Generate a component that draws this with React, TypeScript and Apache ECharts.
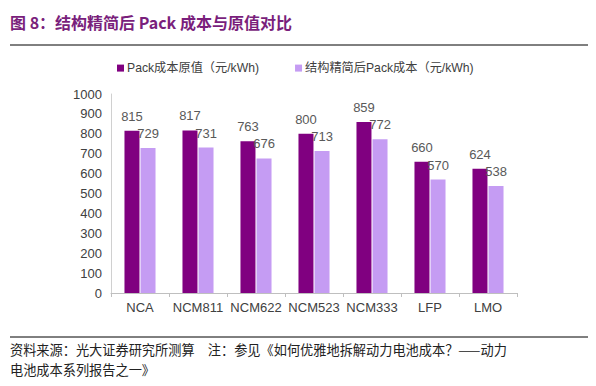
import React, { useEffect, useRef } from "react";
import * as echarts from "echarts";

const categories = ["NCA", "NCM811", "NCM622", "NCM523", "NCM333", "LFP", "LMO"];
const originalCost = [815, 817, 763, 800, 859, 660, 624];
const simplifiedCost = [729, 731, 676, 713, 772, 570, 538];
const seriesNames = ["Pack成本原值（元/kWh)", "结构精简后Pack成本（元/kWh)"];
const titleText = "图 8：结构精简后 Pack 成本与原值对比";
const sourceLine1 = "资料来源：光大证券研究所测算　注：参见《如何优雅地拆解动力电池成本？——动力";
const sourceLine2 = "电池成本系列报告之一》";

const FONT = "Arial, 'Liberation Sans', 'Noto Sans CJK SC', sans-serif";

export default function App() {
  const ref = useRef<HTMLDivElement>(null);
  useEffect(() => {
    if (!ref.current) return;
    const chart = echarts.init(ref.current, null, { renderer: "svg" });
    chart.setOption({
      animation: false,
      backgroundColor: "#ffffff",
      textStyle: { fontFamily: FONT },
      legend: {
        left: 112,
        top: 57,
        icon: "rect",
        itemWidth: 7,
        itemHeight: 7,
        itemGap: 36,
        textStyle: { fontSize: 12.2, color: "#404040", fontFamily: FONT, padding: [0, 0, 0, -2] },
        data: seriesNames,
      },
      grid: { left: 111, right: 79, top: 94, bottom: 93, containLabel: false },
      xAxis: {
        type: "category",
        data: categories,
        axisLine: { lineStyle: { color: "#BFBFBF" } },
        axisTick: { show: true, alignWithLabel: false, length: 4, lineStyle: { color: "#BFBFBF" } },
        axisLabel: { fontSize: 13, color: "#404040", margin: 8, interval: 0 },
      },
      yAxis: {
        type: "value",
        min: 0,
        max: 1000,
        interval: 100,
        splitLine: { show: false },
        axisLine: { show: true, lineStyle: { color: "#D0D0D0" } },
        axisTick: { show: false },
        axisLabel: { fontSize: 13, color: "#404040", margin: 9, formatter: (v: number) => String(v) },
      },
      series: [
        {
          name: seriesNames[0],
          type: "bar",
          data: originalCost,
          barWidth: 15,
          barGap: "7%",
          itemStyle: { color: "#800080" },
          label: { show: true, position: "top", distance: 8, fontSize: 13, color: "#595959" },
        },
        {
          name: seriesNames[1],
          type: "bar",
          data: simplifiedCost,
          barWidth: 15,
          itemStyle: { color: "#C59CF3" },
          label: { show: true, position: "top", distance: 8, fontSize: 13, color: "#595959" },
        },
      ],
      graphic: [
        {
          type: "text",
          left: 10,
          top: 14,
          style: {
            text: titleText,
            fontSize: 16,
            fontWeight: "bold",
            fill: "#7A1F7C",
            fontFamily: "'Noto Sans CJK SC', sans-serif",
          },
        },
        {
          type: "line",
          shape: { x1: 10, y1: 45, x2: 588, y2: 45 },
          style: { stroke: "#000000", lineWidth: 1 },
        },
        {
          type: "line",
          shape: { x1: 10, y1: 337, x2: 588, y2: 337 },
          style: { stroke: "#000000", lineWidth: 1 },
        },
        {
          type: "text",
          left: 10,
          top: 343,
          style: {
            text: sourceLine1,
            fontSize: 13.2,
            fill: "#222222",
            fontFamily: "'Noto Sans CJK SC', sans-serif",
          },
        },
        {
          type: "text",
          left: 10,
          top: 363,
          style: {
            text: sourceLine2,
            fontSize: 13.2,
            fill: "#222222",
            fontFamily: "'Noto Sans CJK SC', sans-serif",
          },
        },
      ],
    });
    return () => chart.dispose();
  }, []);
  return <div ref={ref} style={{ width: 596, height: 386, position: "absolute", left: 0, top: 0 }} />;
}
